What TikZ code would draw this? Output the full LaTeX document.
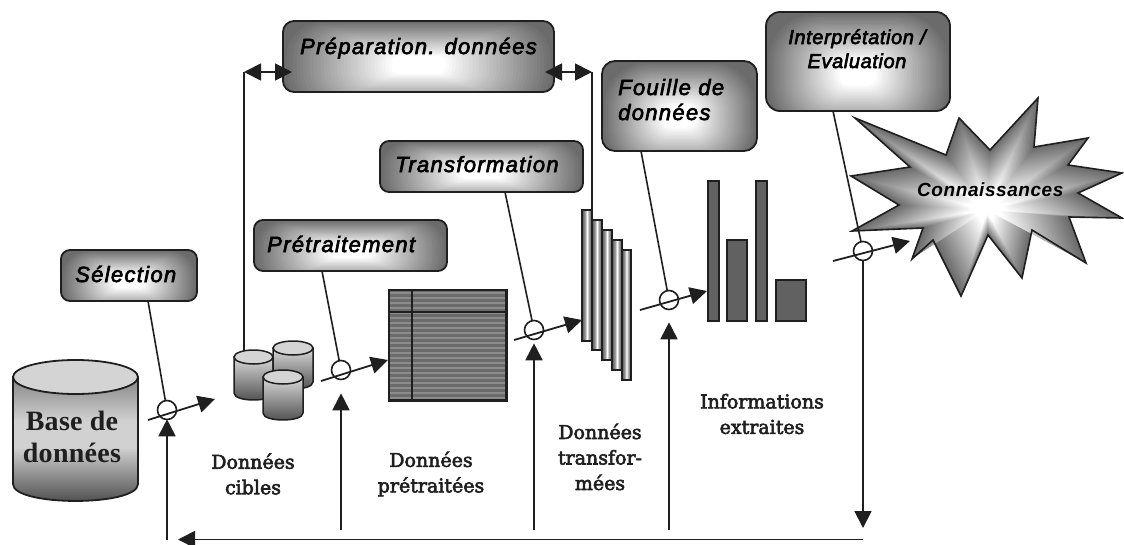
\documentclass[tikz,border=0pt]{standalone}
\usepackage{fontspec}
\setmainfont{Liberation Serif}
\newfontfamily\boxf[LetterSpace=6,FakeBold=3]{Liberation Sans}
\newfontfamily\boxg[LetterSpace=3,FakeBold=3]{Liberation Sans}
\newfontfamily\conf[LetterSpace=3]{Liberation Sans}
\newfontfamily\serf[FakeBold=3]{DejaVu Serif}
\newfontfamily\basef[LetterSpace=1]{Liberation Serif}
\usetikzlibrary{arrows.meta,calc}
\pgfdeclareverticalshading{cylbody}{100bp}{rgb(0bp)=(.27,.27,.27); rgb(25bp)=(.27,.27,.27); rgb(48bp)=(.82,.82,.82); rgb(58bp)=(.82,.82,.82); rgb(75bp)=(.52,.52,.52); rgb(100bp)=(.52,.52,.52)}
\pgfdeclareverticalshading{cylsmall}{100bp}{rgb(0bp)=(.3,.3,.3); rgb(25bp)=(.3,.3,.3); rgb(75bp)=(.85,.85,.85); rgb(100bp)=(.85,.85,.85)}
\pgfdeclarehorizontalshading{slicegrad}{100bp}{rgb(0bp)=(.32,.32,.32); rgb(25bp)=(.32,.32,.32); rgb(40bp)=(.62,.62,.62); rgb(50bp)=(1,1,1); rgb(60bp)=(.62,.62,.62); rgb(75bp)=(.32,.32,.32); rgb(100bp)=(.32,.32,.32)}
\definecolor{ink}{gray}{0.12}
\tikzset{
 x=1pt,y=-1pt,
 gbox/.style={draw=ink,line width=1.8pt,inner sep=0pt},
 boxtext/.style={anchor=base west,inner sep=0pt,font=\boxf\itshape\fontsize{22}{24}\selectfont,text=black},
 smalltext/.style={anchor=base,inner sep=0pt,font=\boxg\itshape\fontsize{20}{24}\selectfont,text=black},
 serlabel/.style={inner sep=0pt,align=center,font=\serf\fontsize{19}{25.5}\selectfont,text=ink},
 link/.style={draw=ink,line width=1.6pt},
 arrowto/.style={draw=ink,line width=1.8pt,-{Triangle[length=17pt,width=17pt]}},
 twoway/.style={draw=ink,line width=1.8pt,{Triangle[length=17pt,width=17pt]}-{Triangle[length=17pt,width=17pt]}},
 valve/.style={circle,draw=ink,fill=white,line width=1.6pt,minimum size=19pt,inner sep=0pt},
 barfill/.style={fill=black!62,draw=ink,line width=1.6pt},
 slice/.style={shading=slicegrad,draw=ink,line width=1.8pt},
}
% name, centre x, centre y, width, height, corner radius
\newcommand{\glowbox}[6]{%
 \begin{scope}
  \clip[rounded corners=#6pt] ({#2-#4/2},{#3-#5/2}) rectangle ({#2+#4/2},{#3+#5/2});
  \fill[black!58] ({#2-#4/2},{#3-#5/2}) rectangle ({#2+#4/2},{#3+#5/2});
  \foreach \k in {1.0,0.975,...,0.2}{
   \pgfmathsetmacro{\gv}{min(100,42+(1-\k)/0.8*58)}
   \pgfmathsetmacro{\hw}{\k*#4*0.5}
   \pgfmathsetmacro{\hh}{\k*#5*0.62}
   \pgfmathsetmacro{\rr}{\k*min(#4,#5)*0.5}
   \pgfmathsetmacro{\cy}{#3+0.12*#5}
   \fill[color=white!\gv!black,rounded corners=\rr pt] ({#2-\hw},{\cy-\hh}) rectangle ({#2+\hw},{\cy+\hh});
  }
 \end{scope}
 \node[gbox,rounded corners=#6pt,minimum width=#4pt,minimum height=#5pt] (#1) at (#2,#3) {};
}
\newcommand{\cyl}[7]{% x1,x2,ytop,ybot,ry,shading,lw
 \draw[shading=#6,draw=ink,line width=#7] (#1,#3) -- (#1,#4) .. controls (#1,{#4+1.33*#5}) and (#2,{#4+1.33*#5}) .. (#2,#4) -- (#2,#3) -- cycle;
 \draw[fill=black!17,draw=ink,line width=#7] ({(#1+#2)/2},#3) ellipse [x radius={(#2-#1)/2*1pt},y radius={#5*1pt}];
}
\newcommand{\starshape}{(855,118) -- (946,155) -- (959,118) -- (990,150) -- (1038,98) -- (1034,147) -- (1088,138) -- (1068,165) -- (1122,173) -- (1078,193) -- (1122,218) -- (1069,217) -- (1086,263) -- (1032,230) -- (1022,278) -- (988,235) -- (961,296) -- (933,240) -- (912,259) -- (923,228) -- (852,231) -- (899,205) -- (851,176) -- (910,167) -- cycle}
\begin{document}
\begin{tikzpicture}
\useasboundingbox (0,0) rectangle (1124,544);
\coordinate (prepL) at (244,72);
\coordinate (prepR) at (592,72);
\coordinate (cylTop) at (244,351);
\coordinate (sliceTop) at (592,210);
% database
\cyl{13}{138}{377}{484}{17}{cylbody}{1.8pt}
\node[inner sep=0pt,align=center,text=ink,font=\basef\bfseries\fontsize{28}{32}\selectfont] (dbtext) at (72,437) {Base de\\données};
% small cylinders
\draw[link] (prepL) -- (cylTop);
\cyl{234}{273}{357}{393}{7}{cylsmall}{1.5pt}
\cyl{273}{313}{348}{382}{7}{cylsmall}{1.5pt}
\cyl{263}{303}{377}{413}{7}{cylsmall}{1.5pt}
% table
\node[rectangle,draw=ink,fill=black!58,line width=1.5pt,minimum width=117pt,minimum height=110pt,inner sep=0pt] (table) at (447.5,345) {};
\foreach \yy in {293,298,...,398}{\draw[black!45,line width=2pt] (390,\yy) -- (505,\yy);}
\draw[ink,line width=2pt] (412,290) -- (412,400);
\draw[ink,line width=2pt] (389,312) -- (506,312);
\draw[ink,line width=1.5pt] (table.south west) rectangle (table.north east);
% stacked slices
\draw[link] (prepR) -- (sliceTop);
\node[slice,minimum width=10pt,minimum height=131pt,inner sep=0pt] (s1) at (587,275.5) {};
\node[slice,minimum width=10pt,minimum height=130pt,inner sep=0pt] (s2) at (597,285) {};
\node[slice,minimum width=10pt,minimum height=130pt,inner sep=0pt] (s3) at (607,295) {};
\node[slice,minimum width=10pt,minimum height=130pt,inner sep=0pt] (s4) at (617,305) {};
\node[slice,minimum width=9pt,minimum height=130pt,inner sep=0pt] (s5) at (626.5,315) {};
% bars
\node[barfill,minimum width=11pt,minimum height=140pt,inner sep=0pt] (b1) at (713.5,251) {};
\node[barfill,minimum width=20pt,minimum height=81pt,inner sep=0pt] (b2) at (737,280.5) {};
\node[barfill,minimum width=11pt,minimum height=140pt,inner sep=0pt] (b3) at (761.5,251) {};
\node[barfill,minimum width=30pt,minimum height=41pt,inner sep=0pt] (b4) at (791,300.5) {};
% valves
\node[valve] (v1) at (167,410) {};
\node[valve] (v2) at (341,370) {};
\node[valve] (v3) at (534,330) {};
\node[valve] (v4) at (669,300) {};
\coordinate (i1) at (148,420); \coordinate (o1) at (215,399);
\coordinate (i2) at (321,381); \coordinate (o2) at (388,360);
\coordinate (i3) at (514,340); \coordinate (o3) at (582,320);
\coordinate (i4) at (640,310); \coordinate (o4) at (707,291);
% boxes
\glowbox{sel}{129}{275.5}{136}{51}{9}
\node[boxtext] (seltext) at (75,282) {Sélection};
\glowbox{pre}{350.5}{245.5}{193}{51}{9}
\node[boxtext] (pretext) at (267,252) {Prétraitement};
\glowbox{tra}{481.5}{166.5}{203}{51}{9}
\node[boxtext] (tratext) at (395,172) {Transformation};
\glowbox{prep}{418.5}{56.5}{271}{71}{11}
\node[boxtext] (preptext) at (300,54) {Préparation. données};
\glowbox{fou}{679.5}{106}{155}{90}{13}
\node[boxtext] (foutext) at (618,95) {Fouille de};
\node[boxtext] (foutext2) at (618,120) {données};
\glowbox{int}{858}{61.5}{184}{99}{14}
\node[smalltext] (inttext) at (857,44) {Interprétation /};
\node[smalltext] (inttext2) at (857,68) {Evaluation};
% box to valve lines
\coordinate (a1) at (148,301); \coordinate (a2) at (322,271);
\coordinate (a3) at (505,192); \coordinate (a4) at (641,151); \coordinate (a5) at (833,111);
\draw[link] (a1) -- (v1);
\draw[link] (a2) -- (v2);
\draw[link] (a3) -- (v3);
\draw[link] (a4) -- (v4);
% star
\foreach \k in {1.00,0.97,...,0.0}{
 \pgfmathsetmacro{\gv}{min(100,(1-\k)*70+42)}
 \begin{scope}[shift={(987,210)},scale=\k,shift={(-987,-210)}]
  \fill[color=white!\gv!black] \starshape;
 \end{scope}
}
\draw[ink,line width=1.6pt,line join=miter] \starshape;
\node[boxtext,font=\conf\bfseries\itshape\fontsize{19}{24}\selectfont] (context) at (917,196) {Connaissances};
\node[valve] (v5) at (863,251) {};
\coordinate (i5) at (833,261); \coordinate (o5) at (910,241);
\draw[link] (a5) -- (v5);
% through arrows
\draw[arrowto] (i1) -- (o1);
\draw[arrowto] (i2) -- (o2);
\draw[arrowto] (i3) -- (o3);
\draw[arrowto] (i4) -- (o4);
\draw[arrowto] (i5) -- (o5);
% preparation double arrows
\coordinate (pl) at (292,72); \coordinate (pr) at (545,72);
\draw[twoway] (prepL) -- (pl);
\draw[twoway] (pr) -- (prepR);
% feedback
\coordinate (f0) at (863,528); \coordinate (f1) at (863,539.5); \coordinate (f2) at (178,539.5);
\coordinate (u1) at (167,540); \coordinate (u2) at (341,530); \coordinate (u3) at (534,530); \coordinate (u4) at (669,530);
\draw[arrowto] (v5) -- (f0);
\draw[arrowto] (f1) -- (f2);
\draw[arrowto] (u1) -- ([yshift=1pt]v1.south);
\draw[arrowto] (u2) -- ($(v2.south)+(0,13)$);
\draw[arrowto] (u3) -- ($(v3.south)+(0,3)$);
\draw[arrowto] (u4) -- ($(v4.south)+(0,12)$);
% labels
\node[serlabel] (l1) at (253,474) {Données\\cibles};
\node[serlabel] (l2) at (431,474) {Données\\prétraitées};
\node[serlabel] (l3) at (600,457) {Données\\transfor-\\mées};
\node[serlabel] (l4) at (762,414) {Informations\\extraites};
\end{tikzpicture}
\end{document}
